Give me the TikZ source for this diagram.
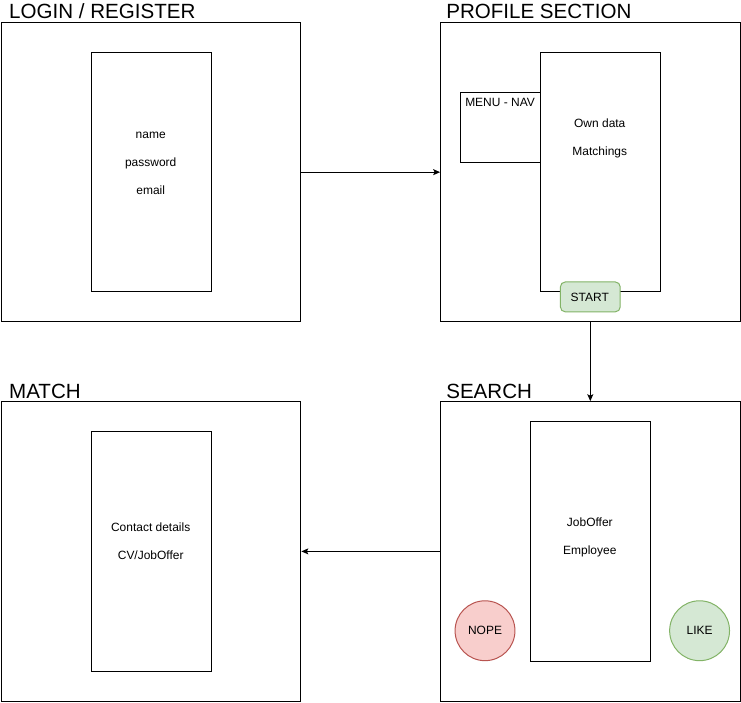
\documentclass[tikz,border=0pt]{standalone}
\usepackage{fontspec}
\setmainfont{Liberation Sans}
\usetikzlibrary{arrows.meta}
\definecolor{gfill}{HTML}{D5E8D4}
\definecolor{gdraw}{HTML}{82B366}
\definecolor{rfill}{HTML}{F8CECC}
\definecolor{rdraw}{HTML}{B85450}
\tikzset{
  frame/.style={draw, line width=1pt, rectangle, anchor=north west, inner sep=0pt, minimum width=300pt, minimum height=300pt},
  screen/.style={draw, line width=1pt, rectangle, anchor=north west, inner sep=0pt, minimum width=120pt, minimum height=240pt, fill=white},
  title/.style={anchor=base west, inner sep=0pt, font=\fontsize{20.6}{24}\selectfont},
  lbl/.style={anchor=base, inner sep=0pt, font=\fontsize{12}{14}\selectfont},
  conn/.style={line width=1pt, -{Stealth[length=7pt,width=6pt,inset=1.5pt]}},
  greenbtn/.style={draw=gdraw, fill=gfill, line width=1pt, rounded corners=5pt, rectangle, anchor=north west, inner sep=0pt, minimum width=60pt, minimum height=30pt},
  roundbtn/.style={circle, line width=1pt, inner sep=0pt, minimum size=60pt, font=\fontsize{12}{14}\selectfont}
}
\begin{document}
\begin{tikzpicture}[x=1pt,y=-1pt]
\useasboundingbox (-1,0) rectangle (741.5,704);
% frames
\node[frame] (login) at (0,22) {};
\node[frame] (profile) at (440,22) {};
\node[frame] (search) at (440,402) {};
\node[frame] (match) at (0,402) {};
% titles
\node[title] (tlogin) at (8,19) {LOGIN / REGISTER};
\node[title] (tprofile) at (446,19) {PROFILE SECTION};
\node[title] (tsearch) at (446,399) {SEARCH};
\node[title] (tmatch) at (8,399) {MATCH};
% login screen
\node[screen] (lscreen) at (90,52) {};
\node[lbl] (lname) at (150,139) {name};
\node[lbl] (lpass) at (150,167) {password};
\node[lbl] (lmail) at (150,195) {email};
% profile
\node[draw, line width=1pt, rectangle, anchor=north west, inner sep=0pt, minimum width=80pt, minimum height=70pt] (menu) at (460,92) {};
\node[screen] (pscreen) at (540,52) {};
\node[anchor=base west, inner sep=0pt, font=\fontsize{12}{14}\selectfont] (menutxt) at (465,107) {MENU - NAV};
\node[lbl] (pown) at (600,128) {Own data};
\node[lbl] (pmatch) at (600,156) {Matchings};
\node[greenbtn] (start) at (560,282) {};
\node[lbl] (starttxt) at (590,302) {START};
% search
\node[screen] (sscreen) at (530,422) {};
\node[lbl] (sjob) at (590,528) {JobOffer};
\node[lbl] (semp) at (590,556) {Employee};
\node[roundbtn, draw=rdraw, fill=rfill] (nope) at (485,632) {NOPE};
\node[roundbtn, draw=gdraw, fill=gfill] (like) at (700,632) {LIKE};
% match
\node[screen] (mscreen) at (90,432) {};
\node[lbl] (mcontact) at (150,533) {Contact details};
\node[lbl] (mcv) at (150,561) {CV/JobOffer};
% connectors
\draw[conn] (login.east) -- (profile.west);
\draw[conn] (profile.south) -- (search.north);
\draw[conn] (search.west) -- (match.east);
\end{tikzpicture}
\end{document}
